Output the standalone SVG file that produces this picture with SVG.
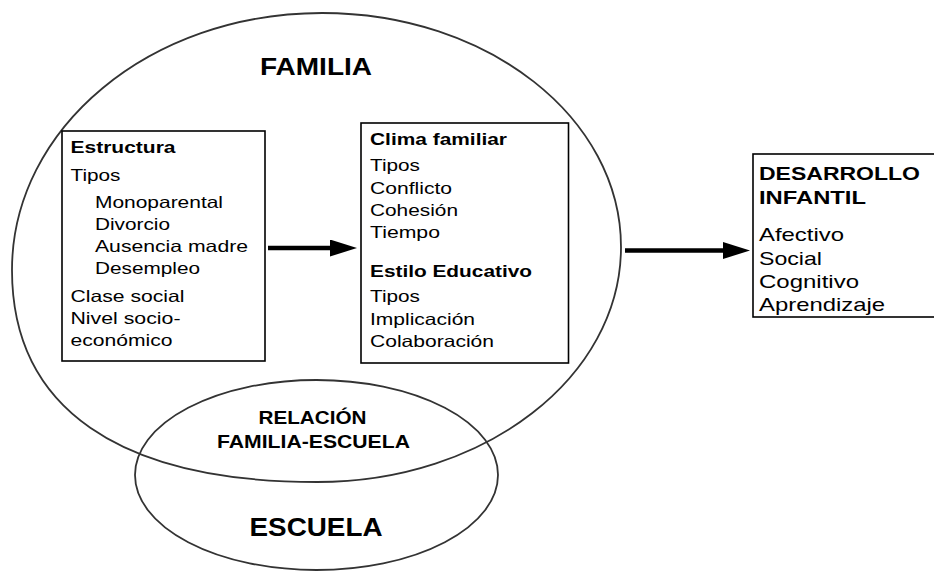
<svg xmlns="http://www.w3.org/2000/svg" width="934" height="571" viewBox="0 0 934 571">
<style>
  text { font-family: "Liberation Sans", Arial, Helvetica, sans-serif; fill: #000; }
  .b { font-weight: bold; }
  .t { font-size: 16.5px; }
  .d { font-size: 18.5px; }
  .ring { fill: none; stroke: #333; stroke-width: 1.8; }
  .box { fill: #fff; stroke: #000; stroke-width: 1.6; }
  .conn { stroke: #000; stroke-width: 4.5; fill: none; }
</style>
<defs>
  <marker id="ah" markerUnits="userSpaceOnUse" markerWidth="28" markerHeight="18" refX="15" refY="8.5" orient="auto">
    <path d="M0,0 L27,8.5 L0,17 Z" fill="#000"/>
  </marker>
</defs>
<rect width="934" height="571" fill="#fff"/>

<g id="familia">
  <path class="ring" d="M322,13 C488,13 621,118 621,247 C621,377 485,482 317,482 C119,482 12,408 12,270 C12,128 150,13 322,13 Z"/>
  <text class="b" x="260" y="75" font-size="23" textLength="112" lengthAdjust="spacingAndGlyphs">FAMILIA</text>
</g>

<g id="escuela">
  <ellipse class="ring" cx="316.5" cy="475" rx="181.5" ry="95"/>
  <text class="b" x="249.5" y="535.5" font-size="26" textLength="133" lengthAdjust="spacingAndGlyphs">ESCUELA</text>
</g>

<g id="relacion">
  <text class="b" x="258.5" y="424" font-size="17.5" textLength="108" lengthAdjust="spacingAndGlyphs">RELACIÓN</text>
  <text class="b" x="217" y="447.5" font-size="17.5" textLength="193" lengthAdjust="spacingAndGlyphs">FAMILIA-ESCUELA</text>
</g>

<g id="estructura">
  <rect class="box" x="62" y="131" width="203" height="230"/>
  <text class="b t" x="70.5" y="153" textLength="105" lengthAdjust="spacingAndGlyphs">Estructura</text>
  <text class="t" x="70.5" y="181" textLength="50" lengthAdjust="spacingAndGlyphs">Tipos</text>
  <text class="t" x="95" y="207.5" textLength="128" lengthAdjust="spacingAndGlyphs">Monoparental</text>
  <text class="t" x="95" y="229.5" textLength="75" lengthAdjust="spacingAndGlyphs">Divorcio</text>
  <text class="t" x="95" y="252" textLength="153" lengthAdjust="spacingAndGlyphs">Ausencia madre</text>
  <text class="t" x="95" y="274" textLength="105" lengthAdjust="spacingAndGlyphs">Desempleo</text>
  <text class="t" x="70.5" y="302" textLength="114" lengthAdjust="spacingAndGlyphs">Clase social</text>
  <text class="t" x="70.5" y="324" textLength="110" lengthAdjust="spacingAndGlyphs">Nivel socio-</text>
  <text class="t" x="70.5" y="346" textLength="102" lengthAdjust="spacingAndGlyphs">económico</text>
</g>

<g id="clima">
  <rect class="box" x="361" y="123" width="207.5" height="240"/>
  <text class="b t" x="370" y="145" textLength="137" lengthAdjust="spacingAndGlyphs">Clima familiar</text>
  <text class="t" x="370" y="171" textLength="50" lengthAdjust="spacingAndGlyphs">Tipos</text>
  <text class="t" x="370" y="193.5" textLength="82" lengthAdjust="spacingAndGlyphs">Conflicto</text>
  <text class="t" x="370" y="216" textLength="88" lengthAdjust="spacingAndGlyphs">Cohesión</text>
  <text class="t" x="370" y="238" textLength="70" lengthAdjust="spacingAndGlyphs">Tiempo</text>
  <text class="b t" x="370" y="277" textLength="162" lengthAdjust="spacingAndGlyphs">Estilo Educativo</text>
  <text class="t" x="370" y="301.5" textLength="50" lengthAdjust="spacingAndGlyphs">Tipos</text>
  <text class="t" x="370" y="324.5" textLength="105" lengthAdjust="spacingAndGlyphs">Implicación</text>
  <text class="t" x="370" y="346.5" textLength="124" lengthAdjust="spacingAndGlyphs">Colaboración</text>
</g>

<g id="desarrollo">
  <rect class="box" x="753" y="154" width="185" height="163"/>
  <text class="b d" x="759" y="180" textLength="161" lengthAdjust="spacingAndGlyphs">DESARROLLO</text>
  <text class="b d" x="759" y="204" textLength="107" lengthAdjust="spacingAndGlyphs">INFANTIL</text>
  <text class="d" x="759" y="241" textLength="85" lengthAdjust="spacingAndGlyphs">Afectivo</text>
  <text class="d" x="759" y="264.5" textLength="63" lengthAdjust="spacingAndGlyphs">Social</text>
  <text class="d" x="759" y="288" textLength="100" lengthAdjust="spacingAndGlyphs">Cognitivo</text>
  <text class="d" x="759" y="311" textLength="126" lengthAdjust="spacingAndGlyphs">Aprendizaje</text>
</g>

<g id="connectors">
  <line class="conn" x1="268" y1="248" x2="345" y2="248" marker-end="url(#ah)"/>
  <line class="conn" x1="625" y1="250.5" x2="738" y2="250.5" marker-end="url(#ah)"/>
</g>
</svg>
